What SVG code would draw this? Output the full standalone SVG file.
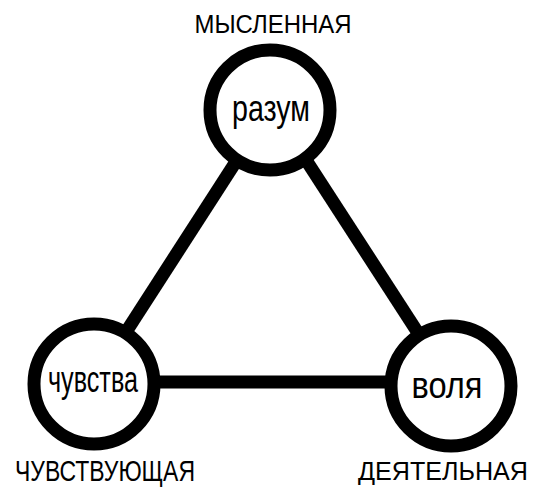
<svg xmlns="http://www.w3.org/2000/svg" width="534" height="488" viewBox="0 0 534 488">
<style>
.edge{stroke:#000;stroke-width:13;fill:none;stroke-linecap:butt}
.node{fill:#fff;stroke:#000;stroke-width:13}
.t{font-family:"Liberation Sans",Arial,sans-serif;fill:#000}
</style>
<rect width="534" height="488" fill="#fff"/>
<g id="connectors">
<line class="edge" x1="237" y1="160" x2="126" y2="332"/>
<line class="edge" x1="306" y1="160" x2="420" y2="336"/>
<line class="edge" x1="154" y1="382" x2="392" y2="382"/>
</g>
<g id="node-mind">
<circle class="node" cx="270" cy="110" r="60"/>
<text class="t" x="271" y="121" font-size="37" text-anchor="middle" textLength="78" lengthAdjust="spacingAndGlyphs">разум</text>
<text class="t" x="273" y="33" font-size="25" text-anchor="middle" textLength="157" lengthAdjust="spacingAndGlyphs">МЫСЛЕННАЯ</text>
</g>
<g id="node-feelings">
<circle class="node" cx="94" cy="384" r="60"/>
<text class="t" x="93" y="392" font-size="37" text-anchor="middle" textLength="90" lengthAdjust="spacingAndGlyphs">чувства</text>
<text class="t" x="15" y="481" font-size="30" text-anchor="start" textLength="180" lengthAdjust="spacingAndGlyphs">ЧУВСТВУЮЩАЯ</text>
</g>
<g id="node-will">
<circle class="node" cx="451" cy="386" r="60"/>
<text class="t" x="447" y="398" font-size="37" text-anchor="middle" textLength="71" lengthAdjust="spacingAndGlyphs">воля</text>
<text class="t" x="528" y="480" font-size="26" text-anchor="end" textLength="170" lengthAdjust="spacingAndGlyphs">ДЕЯТЕЛЬНАЯ</text>
</g>
</svg>
